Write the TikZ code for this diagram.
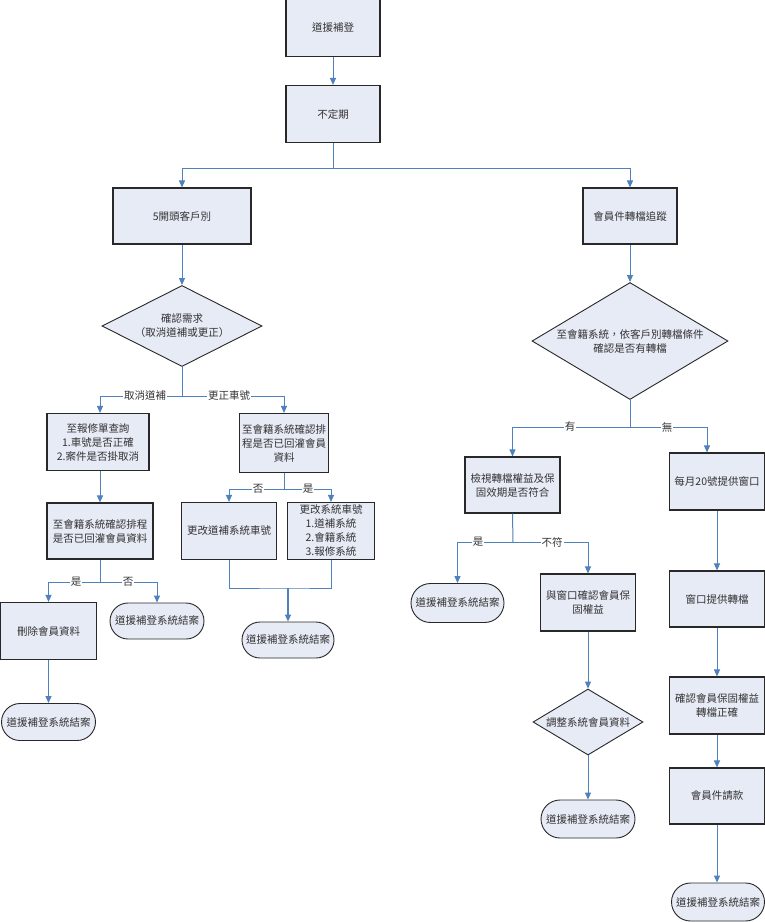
\documentclass[tikz,border=0pt]{standalone}
\usepackage{fontspec}
\setmainfont{Noto Sans CJK TC}
\usetikzlibrary{shapes.geometric,shapes.misc,arrows.meta}
\definecolor{bfill}{RGB}{231,235,246}
\definecolor{bline}{RGB}{40,40,40}
\definecolor{ablue}{RGB}{79,129,189}
\definecolor{txt}{RGB}{51,51,51}
\begin{document}
\begin{tikzpicture}[x=1pt,y=-1pt,
 every node/.style={font=\fontsize{10.5}{14}\selectfont, text=txt},
 proc/.style={rectangle,draw=bline,fill=bfill,line width=1.1pt,minimum width=95pt,minimum height=57pt,inner sep=0pt,align=center},
 term/.style={rounded rectangle,draw=bline,fill=bfill,line width=0.9pt,minimum width=93pt,minimum height=37pt,inner sep=0pt},
 dec/.style={diamond,draw=bline,fill=bfill,line width=0.9pt,inner sep=0pt},
 arr/.style={draw=ablue,line width=1pt,-{Triangle[width=6pt,length=7pt]}},
 ln/.style={draw=ablue,line width=1pt},
 mln/.style={draw=ablue,line width=0.7pt},
 lbl/.style={fill=white,inner sep=1pt}]
\useasboundingbox (0,0) rectangle (765,922);
\fill[white] (0,0) rectangle (765,922);

% left / top nodes
\node[proc,minimum width=94pt] (n1) at (333,28) {道援補登};
\node[proc,minimum width=94pt] (n2) at (333,114) {不定期};
\node[proc,minimum width=138pt,minimum height=56pt] (n3) at (182,216) {5開頭客戶別};
\node[proc,minimum width=94pt,minimum height=56pt] (n4) at (630,216) {會員件轉檔追蹤};
\node[dec,minimum width=160pt,minimum height=81pt,
  label={[align=center]center:{確認需求\\（取消道補或更正）}}] (d1) at (182,326) {};
\node[proc,minimum width=102pt] (n5) at (98,442) {至報修單查詢\\1.車號是否正確\\2.案件是否掛取消};
\node[proc,minimum width=89pt,minimum height=59pt] (n6) at (284,443) {至會籍系統確認排\\程是否已回灌會員\\資料};
\node[proc,minimum width=106pt,minimum height=56pt] (n7) at (100,531) {至會籍系統確認排程\\是否已回灌會員資料};
\node[proc,minimum width=96pt] (n8) at (48.5,631) {刪除會員資料};
\node[term,minimum width=94pt,minimum height=36pt] (t1) at (157,621) {道援補登系統結案};
\node[term,minimum width=94pt] (t2) at (48.5,722) {道援補登系統結案};
\node[proc,minimum width=95pt] (n9) at (229,531) {更改道補系統車號};
\node[proc,minimum width=87pt] (n10) at (331,531) {更改系統車號\\1.道補系統\\2.會籍系統\\3.報修系統};
\node[term,minimum width=92pt,minimum height=36pt] (t3) at (288,640) {道援補登系統結案};

% right nodes
\node[dec,minimum width=196pt,minimum height=117pt,
  label={[align=center]center:{至會籍系統，依客戶別轉檔條件\\確認是否有轉檔}}] (d2) at (630,341) {};
\node[proc,minimum height=56pt] (n11) at (512.5,485) {檢視轉檔權益及保\\固效期是否符合};
\node[proc] (n12) at (717,481.5) {每月20號提供窗口};
\node[term,minimum height=39pt] (t4) at (457.5,603) {道援補登系統結案};
\node[proc] (n13) at (588,602.5) {與窗口確認會員保\\固權益};
\node[proc,minimum height=56pt] (n14) at (717,599) {窗口提供轉檔};
\node[dec,minimum width=110pt,minimum height=66pt,
  label={center:調整系統會員資料}] (d3) at (588,722) {};
\node[term,minimum width=94pt,minimum height=38pt] (t5) at (588,819) {道援補登系統結案};
\node[proc] (n15) at (717,705.5) {確認會員保固權益\\轉檔正確};
\node[proc,minimum height=56pt] (n16) at (717,796) {會員件請款};
\node[term,minimum height=38pt] (t6) at (718,902) {道援補登系統結案};

% junction coordinates
\coordinate (j1) at (333,168);
\coordinate (j2) at (182,396);
\coordinate (j3) at (100,582);
\coordinate (j4) at (284,489);
\coordinate (m) at (288,588);
\coordinate (j5) at (630,427);
\coordinate (j6) at (513,542);
\path (n12.north) ++(-10,0) coordinate (c12);

% connectors
\draw[arr] (n1) -- (n2);
\draw[ln] (n2.south) -- (j1);
\draw[arr] (j1) -| (n3.north);
\draw[arr] (j1) -| (n4.north);
\draw[arr] (n3) -- (d1);
\draw[ln] (d1.south) -- (j2);
\draw[arr] (j2) -| (n5.north -| j3);
\draw[arr] (j2) -| (n6.north);
\draw[arr] (n7.north |- n5.south) -- (n7.north);
\draw[ln] (n7.south) -- (j3);
\draw[arr] (j3) -| (n8.north);
\draw[arr] (j3) -| (t1.north);
\draw[arr] (n8) -- (t2);
\draw[ln] (n6.south) -- (j4);
\draw[arr] (j4) -| (n9.north);
\draw[arr] (j4) -| (n10.north);
\draw[mln] (n9.south) |- (m) -| (n10.south);
\draw[arr,line width=1.6pt] (m) -- (t3.north);

\draw[arr] (n4) -- (d2);
\draw[ln] (d2.south) -- (j5);
\draw[arr] (j5) -| (n11.north);
\draw[arr] (j5) -| (c12);
\draw[ln] (n11.south) -- (j6);
\draw[arr] (j6) -| (t4.north);
\draw[arr] (j6) -| (n13.north);
\draw[arr] (n12) -- (n14);
\draw[arr] (n13) -- (d3);
\draw[arr] (d3) -- (t5);
\draw[arr] (n14) -- (n15);
\draw[arr] (n15) -- (n16);
\draw[arr] (n16.south) -- (t6.north -| n16.south);

% branch labels
\node[lbl] (l1) at (145,396) {取消道補};
\node[lbl] (l2) at (229,396) {更正車號};
\node[lbl] (l3) at (258,489) {否};
\node[lbl] (l4) at (308,489) {是};
\node[lbl] (l5) at (76,582) {是};
\node[lbl] (l6) at (128,582) {否};
\node[lbl] (l7) at (570,427) {有};
\node[lbl] (l8) at (667,427) {無};
\node[lbl] (l9) at (478,542) {是};
\node[lbl] (l10) at (552,542) {不符};
\end{tikzpicture}
\end{document}
